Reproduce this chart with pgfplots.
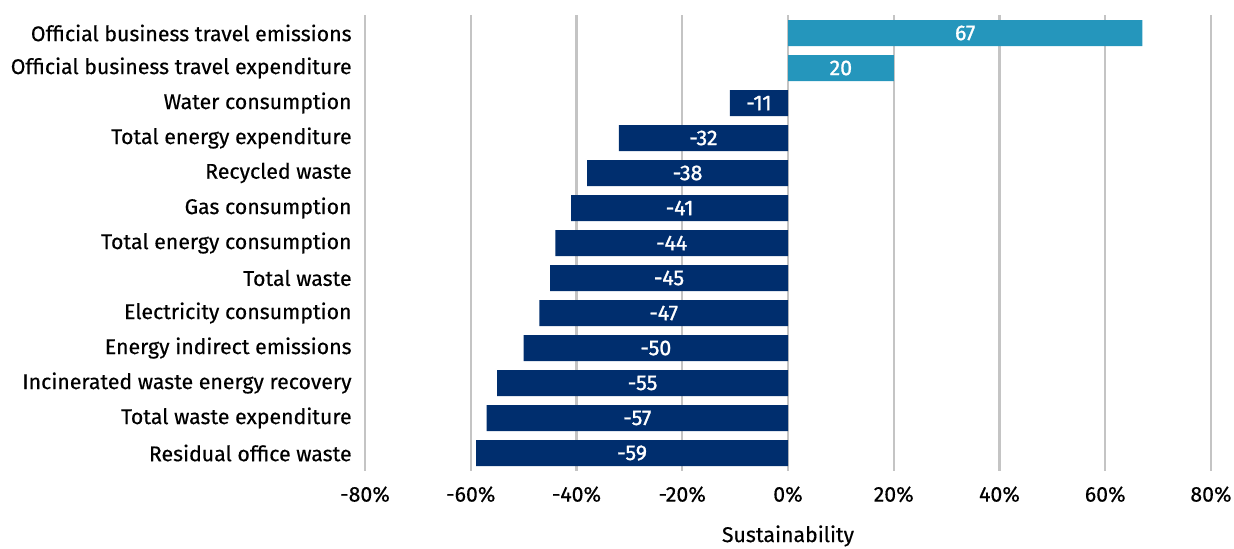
\documentclass[border=0pt]{standalone}
\usepackage{pgfplots}
\pgfplotsset{compat=1.18}
\usepackage{fontspec}
\setmainfont{Fira Sans}[FakeBold=0.4]
\newfontfamily\barfont{Fira Sans}[FakeBold=1.2]
\definecolor{barpos}{HTML}{2596BC}
\definecolor{barneg}{HTML}{002E6E}
\definecolor{gridc}{HTML}{C4C4C4}

\begin{document}
\begin{tikzpicture}[font=\fontsize{10.65}{13}\selectfont]
\begin{axis}[
  scale only axis, width=423pt, height=228pt,
  xbar, bar width=13pt, bar shift=0pt,
  xmin=-80, xmax=80, ymin=-0.514, ymax=12.514, y dir=reverse,
  xtick={-80,-60,...,80},
  xticklabels={-80\%,-60\%,-40\%,-20\%,0\%,20\%,40\%,60\%,80\%},
  ytick={0,...,12},
  yticklabels={Official business travel emissions,
    Official business travel expenditure, Water consumption,
    Total energy expenditure, Recycled waste, Gas consumption,
    Total energy consumption, Total waste, Electricity consumption,
    Energy indirect emissions, Incinerated waste energy recovery,
    Total waste expenditure, Residual office waste},
  xmajorgrids, grid style={gridc, line width=1.2pt},
  axis line style={draw=none}, major tick length=0pt,
  xticklabel style={anchor=north, inner sep=0pt, yshift=-7.5pt},
  yticklabel style={anchor=east, inner sep=0pt, xshift=-6.5pt},
  xlabel=Sustainability,
  xlabel style={at={(axis description cs:0.5,0)}, anchor=north, inner sep=0pt, yshift=-27pt},
  /pgf/number format/assume math mode=true,
  point meta=x,
  visualization depends on={rawx \as \rawx},
  nodes near coords={\pgfmathprintnumber{\pgfplotspointmeta}},
  nodes near coords style={white, anchor=center, inner sep=0pt, font=\barfont\fontsize{10.65}{13}\selectfont,
    shift={(axis direction cs:{-0.5*(\rawx)},0)}},
]
\addplot[draw=none, fill=barpos] coordinates {(67,0) (20,1)};
\addplot[draw=none, fill=barneg] coordinates {
  (-11,2) (-32,3) (-38,4) (-41,5) (-44,6) (-45,7) (-47,8)
  (-50,9) (-55,10) (-57,11) (-59,12)};
\coordinate (sw) at (axis description cs:0,0);
\end{axis}
\pgfresetboundingbox
\path[use as bounding box] ([shift={(-182.5pt,-38.5pt)}]sw) rectangle ++(617pt,274pt);
\end{tikzpicture}
\end{document}
